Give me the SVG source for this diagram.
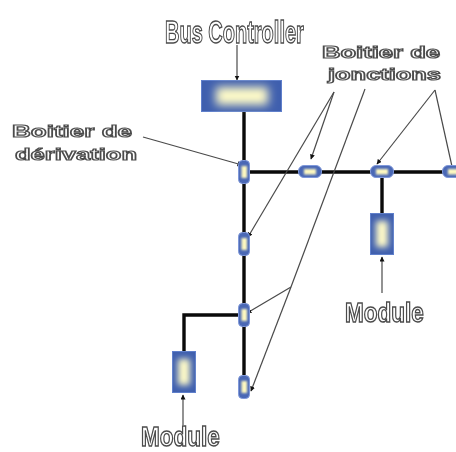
<svg xmlns="http://www.w3.org/2000/svg" width="456" height="452" viewBox="0 0 456 452">
<style>
.bus{fill:none;stroke:#0a0a0a;stroke-width:3.4}
.lead{fill:none;stroke:#4a4a4a;stroke-width:1.2}
.arr{marker-end:url(#a)}
.box{fill:#3f5fae;stroke:#5f7fcb;stroke-width:1}
.glow{fill:#fffbc8;filter:url(#b)}
.glowm{fill:#fffbc8;filter:url(#m)}
.glows{fill:#fdf8c0;filter:url(#s)}
.j{fill:#4a68b5;stroke:#7f98da;stroke-width:1}
.t{fill:#fff;stroke:#4c4c4c;stroke-width:1.2;font-family:"Liberation Sans",Arial,sans-serif;font-weight:700;filter:url(#t)}
</style>
<defs>
<marker id="a" markerWidth="6" markerHeight="6" refX="4.500" refY="2.500" orient="auto" markerUnits="userSpaceOnUse"><path d="M0 0L5 2.500L0 5Z" fill="#111"/></marker>
<filter id="b" x="-60%" y="-100%" width="220%" height="300%"><feGaussianBlur stdDeviation="5"/></filter>
<filter id="m" x="-100%" y="-60%" width="300%" height="220%"><feGaussianBlur stdDeviation="3"/></filter>
<filter id="s" x="-80%" y="-80%" width="260%" height="260%"><feGaussianBlur stdDeviation="1"/></filter>
<filter id="t" x="-5%" y="-20%" width="110%" height="140%"><feGaussianBlur stdDeviation=".4"/></filter>
</defs>
<rect width="456" height="452" fill="#fff"/>
<g id="connectors">
<path class="bus" d="M244 112V375M250 172H456M382 177V213M238 315H184V351"/>
<path class="lead arr" d="M237 45V80"/>
<path class="lead arr" d="M143 137L242 165"/>
<path class="lead arr" d="M334 92L311 159"/>
<path class="lead arr" d="M334 92L248 237"/>
<path class="lead" d="M365 89L291 287"/>
<path class="lead arr" d="M291 287L247 313"/>
<path class="lead arr" d="M291 287L251 391"/>
<path class="lead arr" d="M435 90L377 164"/>
<path class="lead arr" d="M435 90L453 171"/>
<path class="lead arr" d="M382 293V257"/>
<path class="lead arr" d="M183 425V395"/>
</g>
<g id="bus-controller"><rect class="box" x="201.500" y="80.500" width="80" height="31"/><rect class="glow" x="216" y="87" width="52" height="18"/></g>
<g id="derivation-1"><rect class="j" x="238.500" y="160.500" width="11" height="23" rx="4"/><rect class="glows" x="241.500" y="166" width="5.500" height="12"/></g>
<g id="derivation-2"><rect class="j" x="238.500" y="232.500" width="11" height="23" rx="4"/><rect class="glows" x="241.500" y="238" width="5.500" height="12"/></g>
<g id="derivation-3"><rect class="j" x="238.500" y="303.500" width="11" height="23" rx="4"/><rect class="glows" x="241.500" y="309" width="5.500" height="12"/></g>
<g id="derivation-4"><rect class="j" x="238.500" y="375.500" width="11" height="23" rx="4"/><rect class="glows" x="241.500" y="381" width="5.500" height="12"/></g>
<g id="junction-1"><rect class="j" x="298.500" y="165.500" width="23" height="12" rx="5.500"/><rect class="glows" x="304" y="169" width="12" height="5.500"/></g>
<g id="junction-2"><rect class="j" x="370.500" y="165.500" width="23" height="12" rx="5.500"/><rect class="glows" x="376" y="169" width="12" height="5.500"/></g>
<g id="junction-3"><rect class="j" x="442.500" y="165.500" width="23" height="12" rx="5.500"/><rect class="glows" x="448" y="169" width="12" height="5.500"/></g>
<g id="module-right"><rect class="box" x="370.500" y="213.500" width="23" height="41"/><rect class="glowm" x="376" y="221" width="12" height="26"/></g>
<g id="module-left"><rect class="box" x="172.500" y="351.500" width="23" height="41"/><rect class="glowm" x="178" y="359" width="12" height="26"/></g>
<g id="label-bus"><text class="t" transform="translate(165 43) scale(1 1.6)" font-size="20" style="stroke-width:.9">Bus Controller</text></g>
<g id="label-jonctions"><text class="t" x="322" y="58" font-size="16" textLength="118" lengthAdjust="spacingAndGlyphs">Boitier de</text><text class="t" x="328" y="80" font-size="16" textLength="113" lengthAdjust="spacingAndGlyphs">jonctions</text></g>
<g id="label-derivation"><text class="t" x="12" y="137" font-size="17" textLength="120" lengthAdjust="spacingAndGlyphs">Boitier de</text><text class="t" x="15" y="160" font-size="17" textLength="122" lengthAdjust="spacingAndGlyphs">dérivation</text></g>
<g id="label-module-right"><text class="t" transform="translate(345 322) scale(1 1.2)" font-size="22.500">Module</text></g>
<g id="label-module-left"><text class="t" transform="translate(141 446) scale(1 1.2)" font-size="22.500">Module</text></g>
</svg>
